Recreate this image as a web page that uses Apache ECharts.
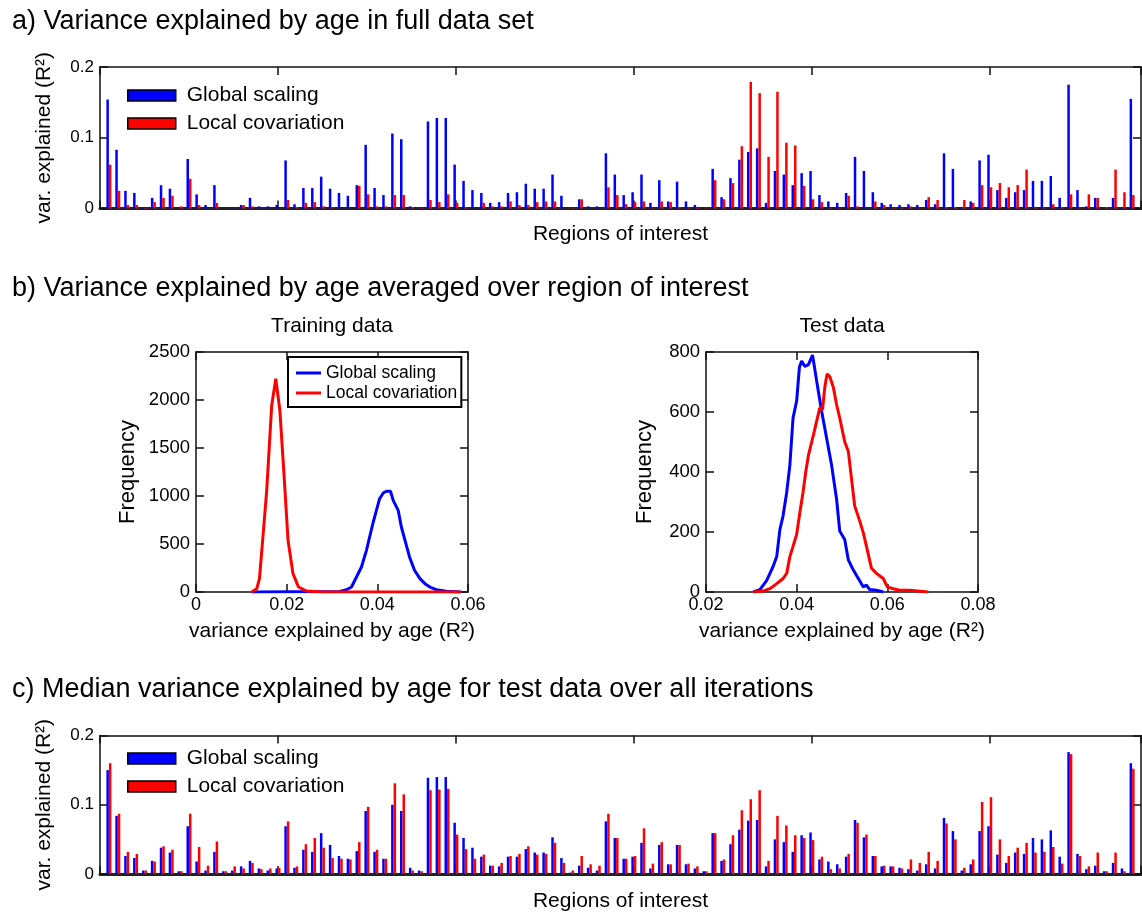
<!DOCTYPE html>
<html>
<head>
<meta charset="utf-8">
<script src="https://cdn.jsdelivr.net/npm/echarts@6/dist/echarts.min.js"></script>
<style>
  html, body { margin: 0; padding: 0; background: #fff; }
  #chart { width: 1142px; height: 913px; }
</style>
</head>
<body>
<div id="chart"></div>
<script>
// panel a: variance explained by age, full data set (one value per ROI)
const fullGlobal = [
  0.154, 0.083, 0.025, 0.022, 0.001, 0.015, 0.033, 0.028, 0.000, 0.070,
  0.020, 0.005, 0.033, 0.000, 0.002, 0.005, 0.015, 0.003, 0.003, 0.005,
  0.068, 0.006, 0.029, 0.029, 0.045, 0.028, 0.022, 0.018, 0.033, 0.090,
  0.029, 0.019, 0.106, 0.098, 0.003, 0.001, 0.123, 0.128, 0.128, 0.062,
  0.039, 0.026, 0.022, 0.008, 0.009, 0.022, 0.023, 0.035, 0.028, 0.028,
  0.048, 0.018, 0.000, 0.013, 0.003, 0.003, 0.078, 0.048, 0.019, 0.023,
  0.048, 0.008, 0.040, 0.010, 0.038, 0.010, 0.005, 0.000, 0.056, 0.016,
  0.043, 0.069, 0.080, 0.085, 0.008, 0.053, 0.048, 0.033, 0.050, 0.053,
  0.019, 0.010, 0.008, 0.022, 0.073, 0.053, 0.023, 0.008, 0.006, 0.005,
  0.006, 0.005, 0.012, 0.006, 0.078, 0.056, 0.002, 0.010, 0.068, 0.076,
  0.026, 0.015, 0.023, 0.026, 0.039, 0.039, 0.046, 0.015, 0.175, 0.026,
  0.003, 0.015, 0.000, 0.015, 0.002, 0.155
];
const fullLocal = [
  0.062, 0.025, 0.005, 0.005, 0.001, 0.009, 0.015, 0.018, 0.003, 0.042,
  0.005, 0.000, 0.008, 0.000, 0.000, 0.005, 0.003, 0.000, 0.000, 0.000,
  0.012, 0.002, 0.008, 0.009, 0.003, 0.002, 0.000, 0.000, 0.032, 0.020,
  0.003, 0.003, 0.019, 0.019, 0.002, 0.001, 0.012, 0.009, 0.020, 0.008,
  0.002, 0.000, 0.008, 0.003, 0.003, 0.010, 0.005, 0.005, 0.009, 0.010,
  0.010, 0.000, 0.001, 0.013, 0.000, 0.000, 0.030, 0.019, 0.006, 0.009,
  0.010, 0.001, 0.010, 0.009, 0.002, 0.001, 0.001, 0.001, 0.040, 0.013,
  0.036, 0.088, 0.179, 0.163, 0.073, 0.165, 0.093, 0.089, 0.032, 0.013,
  0.009, 0.001, 0.001, 0.018, 0.003, 0.000, 0.010, 0.005, 0.001, 0.001,
  0.003, 0.001, 0.016, 0.012, 0.002, 0.002, 0.012, 0.008, 0.033, 0.030,
  0.036, 0.030, 0.033, 0.055, 0.001, 0.001, 0.006, 0.002, 0.020, 0.001,
  0.020, 0.015, 0.002, 0.055, 0.023, 0.019
];

// panel c: median over iterations, test data
const testGlobal = [
  0.150, 0.084, 0.026, 0.023, 0.005, 0.019, 0.038, 0.031, 0.004, 0.069,
  0.018, 0.005, 0.032, 0.004, 0.005, 0.011, 0.019, 0.008, 0.005, 0.008,
  0.069, 0.009, 0.035, 0.032, 0.059, 0.042, 0.026, 0.022, 0.033, 0.091,
  0.032, 0.022, 0.100, 0.091, 0.009, 0.005, 0.139, 0.140, 0.140, 0.074,
  0.052, 0.038, 0.025, 0.012, 0.011, 0.025, 0.025, 0.036, 0.031, 0.031,
  0.053, 0.023, 0.002, 0.012, 0.009, 0.005, 0.076, 0.052, 0.022, 0.025,
  0.045, 0.008, 0.042, 0.014, 0.042, 0.014, 0.008, 0.004, 0.059, 0.019,
  0.043, 0.064, 0.077, 0.078, 0.011, 0.050, 0.046, 0.032, 0.056, 0.060,
  0.021, 0.018, 0.014, 0.025, 0.078, 0.053, 0.026, 0.011, 0.011, 0.009,
  0.007, 0.005, 0.014, 0.008, 0.081, 0.062, 0.005, 0.014, 0.062, 0.069,
  0.028, 0.016, 0.031, 0.029, 0.052, 0.050, 0.063, 0.025, 0.176, 0.029,
  0.007, 0.012, 0.004, 0.016, 0.008, 0.160
];
const testLocal = [
  0.160, 0.087, 0.032, 0.029, 0.005, 0.018, 0.040, 0.035, 0.004, 0.087,
  0.039, 0.012, 0.047, 0.004, 0.011, 0.008, 0.016, 0.007, 0.008, 0.009,
  0.076, 0.011, 0.043, 0.052, 0.038, 0.023, 0.022, 0.021, 0.046, 0.097,
  0.035, 0.022, 0.131, 0.115, 0.005, 0.004, 0.121, 0.122, 0.123, 0.057,
  0.036, 0.022, 0.028, 0.012, 0.016, 0.026, 0.029, 0.040, 0.028, 0.029,
  0.045, 0.016, 0.005, 0.026, 0.014, 0.012, 0.087, 0.052, 0.022, 0.026,
  0.066, 0.015, 0.046, 0.014, 0.042, 0.015, 0.011, 0.004, 0.059, 0.021,
  0.056, 0.092, 0.108, 0.121, 0.019, 0.084, 0.070, 0.056, 0.052, 0.049,
  0.025, 0.007, 0.008, 0.029, 0.074, 0.057, 0.026, 0.012, 0.011, 0.008,
  0.021, 0.016, 0.032, 0.019, 0.073, 0.050, 0.009, 0.021, 0.104, 0.111,
  0.050, 0.026, 0.038, 0.045, 0.031, 0.032, 0.039, 0.015, 0.173, 0.026,
  0.011, 0.031, 0.004, 0.031, 0.004, 0.152
];

// region of interest numbers 1..116
const regions = fullGlobal.map((_, i) => i + 1);

// panel b: frequency histograms of R^2 averaged over ROIs  [R^2, count]
const trainGlobal = [
  [0.0123, 0], [0.0317, 5], [0.0332, 24], [0.0343, 52], [0.0354, 156], [0.0365, 260],
  [0.0376, 434], [0.0383, 573], [0.0391, 729], [0.0398, 851], [0.0405, 972],
  [0.0413, 1031], [0.0420, 1050], [0.0429, 1050], [0.0435, 955], [0.0446, 851],
  [0.0453, 677], [0.0463, 503], [0.0471, 365], [0.0482, 226], [0.0494, 139],
  [0.0505, 87], [0.0516, 52], [0.0530, 24], [0.0552, 7], [0.0584, 0]
];
const trainLocal = [
  [0.0123, 0], [0.0134, 35], [0.0140, 139], [0.0147, 538], [0.0156, 1059],
  [0.0167, 1944], [0.0176, 2222], [0.0185, 1892], [0.0194, 1233], [0.0203, 538],
  [0.0214, 191], [0.0226, 52], [0.0244, 10], [0.0280, 0], [0.0584, 0]
];
const testDataGlobal = [
  [0.0304, 0], [0.0319, 8], [0.0334, 39], [0.0348, 85], [0.0356, 118], [0.0363, 208],
  [0.0370, 254], [0.0378, 332], [0.0385, 423], [0.0392, 580], [0.0400, 637],
  [0.0406, 749], [0.0411, 770], [0.0418, 752], [0.0426, 758], [0.0435, 790],
  [0.0444, 704], [0.0455, 603], [0.0466, 513], [0.0477, 423], [0.0488, 310],
  [0.0495, 203], [0.0506, 175], [0.0514, 107], [0.0525, 73], [0.0536, 45],
  [0.0547, 17], [0.0554, 23], [0.0561, 8], [0.0576, 6], [0.0591, 0]
];
const testDataLocal = [
  [0.0304, 0], [0.0326, 3], [0.0341, 11], [0.0356, 28], [0.0370, 45], [0.0378, 62],
  [0.0385, 118], [0.0392, 152], [0.0400, 192], [0.0407, 265], [0.0414, 332],
  [0.0420, 400], [0.0426, 456], [0.0437, 524], [0.0444, 569], [0.0451, 614],
  [0.0457, 608], [0.0462, 682], [0.0467, 727], [0.0473, 718], [0.0481, 682],
  [0.0488, 625], [0.0495, 580], [0.0506, 501], [0.0514, 468], [0.0521, 377],
  [0.0528, 287], [0.0539, 237], [0.0547, 197], [0.0554, 152], [0.0565, 79],
  [0.0576, 62], [0.0591, 45], [0.0600, 17], [0.0613, 11], [0.0627, 6],
  [0.0649, 6], [0.0690, 0]
];

const FONT = '"Liberation Sans", Arial, Helvetica, sans-serif';
const AX = '#111';
const BLUE = '#0000ff';
const RED = '#ff0000';

const chart = echarts.init(document.getElementById('chart'), null, { renderer: 'canvas' });

function axis(grid, position, min, max, interval, extra) {
  return Object.assign({
    type: 'value', gridIndex: grid, position, min, max, interval,
    axisLine: { show: true, onZero: false, lineStyle: { color: AX, width: 1.5 } },
    axisTick: { show: true, inside: true, length: 8, lineStyle: { color: AX, width: 1.5 } },
    axisLabel: { show: false },
    splitLine: { show: false },
    nameTextStyle: { fontFamily: FONT, fontSize: 21, color: '#000' }
  }, extra);
}

function tickLabels(size, margin) {
  return {
    show: true, fontFamily: FONT, fontSize: size, color: '#000', margin,
    formatter: v => String(+v.toFixed(4))
  };
}

function barLegend(top) {
  return {
    left: 127, top, orient: 'vertical', itemWidth: 48, itemHeight: 11, itemGap: 7,
    selectedMode: false, padding: 0,
    textStyle: { fontFamily: FONT, fontSize: 21, color: '#000', padding: [0, 0, 0, 6] },
    data: [
      { name: 'Global scaling', icon: 'rect', itemStyle: { color: BLUE, borderColor: '#000', borderWidth: 1.5 } },
      { name: 'Local covariation', icon: 'rect', itemStyle: { color: RED, borderColor: '#000', borderWidth: 1.5 } }
    ]
  };
}

function bars(name, xi, values, color) {
  return {
    type: 'bar', name, xAxisIndex: xi, yAxisIndex: xi,
    data: regions.map((r, i) => [r, values[i]]),
    barWidth: 2.5, barGap: '0%',
    itemStyle: { color },
    animation: false
  };
}

function line(name, xi, data, color) {
  return {
    type: 'line', name, xAxisIndex: xi, yAxisIndex: xi, data,
    showSymbol: false, symbol: 'none',
    lineStyle: { color, width: 3 },
    itemStyle: { color },
    animation: false
  };
}

const titleStyle = { fontFamily: FONT, fontSize: 27, fontWeight: 'normal', color: '#000' };

const option = {
  backgroundColor: '#fff',
  animation: false,
  title: [
    { text: 'a) Variance explained by age in full data set', left: 12, top: 8, padding: 0, textStyle: titleStyle },
    { text: 'b) Variance explained by age averaged over region of interest', left: 12, top: 275, padding: 0, textStyle: titleStyle },
    { text: 'c) Median variance explained by age for test data over all iterations', left: 12, top: 676, padding: 0, textStyle: titleStyle }
  ],
  grid: [
    { left: 100, top: 67, width: 1041, height: 141.5 },
    { left: 196, top: 352, width: 272, height: 240 },
    { left: 706, top: 352, width: 272, height: 240 },
    { left: 100, top: 735.5, width: 1041, height: 142 }
  ],
  legend: [
    barLegend(85),
    {
      left: 288, top: 357, orient: 'vertical', itemWidth: 25, itemHeight: 3, itemGap: 2,
      selectedMode: false, padding: [7, 4, 5, 8],
      borderColor: '#000', borderWidth: 2, backgroundColor: '#fff',
      textStyle: { fontFamily: FONT, fontSize: 17.5, color: '#000' },
      data: [
        { name: 'Global scaling', icon: 'rect', itemStyle: { color: BLUE, borderWidth: 0 } },
        { name: 'Local covariation', icon: 'rect', itemStyle: { color: RED, borderWidth: 0 } }
      ]
    },
    barLegend(748)
  ],
  xAxis: [
    axis(0, 'bottom', 0, 117, 20, {
      axisLine: { show: true, onZero: false, lineStyle: { color: '#222', width: 3 } },
      name: 'Regions of interest', nameLocation: 'middle', nameGap: 15
    }),
    axis(0, 'top', 0, 117, 20),
    axis(1, 'bottom', 0, 0.06, 0.02, {
      axisLabel: tickLabels(18, 4),
      name: 'variance explained by age (R²)', nameLocation: 'middle', nameGap: 29
    }),
    axis(1, 'top', 0, 0.06, 0.02, { name: 'Training data', nameLocation: 'middle', nameGap: 15 }),
    axis(2, 'bottom', 0.02, 0.08, 0.02, {
      axisLabel: tickLabels(18, 4),
      name: 'variance explained by age (R²)', nameLocation: 'middle', nameGap: 29
    }),
    axis(2, 'top', 0.02, 0.08, 0.02, { name: 'Test data', nameLocation: 'middle', nameGap: 15 }),
    axis(3, 'bottom', 0, 117, 20, {
      axisLine: { show: true, onZero: false, lineStyle: { color: '#222', width: 3 } },
      name: 'Regions of interest', nameLocation: 'middle', nameGap: 17
    }),
    axis(3, 'top', 0, 117, 20)
  ],
  yAxis: [
    axis(0, 'left', 0, 0.2, 0.1, {
      axisLabel: tickLabels(17, 6),
      name: 'var. explained (R²)', nameLocation: 'middle', nameGap: 45
    }),
    axis(0, 'right', 0, 0.2, 0.1),
    axis(1, 'left', 0, 2500, 500, {
      axisLabel: tickLabels(18.5, 6),
      name: 'Frequency', nameLocation: 'middle', nameGap: 57,
      nameTextStyle: { fontFamily: FONT, fontSize: 22, color: '#000' }
    }),
    axis(1, 'right', 0, 2500, 500),
    axis(2, 'left', 0, 800, 200, {
      axisLabel: tickLabels(18.5, 6),
      name: 'Frequency', nameLocation: 'middle', nameGap: 50,
      nameTextStyle: { fontFamily: FONT, fontSize: 22, color: '#000' }
    }),
    axis(2, 'right', 0, 800, 200),
    axis(3, 'left', 0, 0.2, 0.1, {
      axisLabel: tickLabels(17, 6),
      name: 'var. explained (R²)', nameLocation: 'middle', nameGap: 45
    }),
    axis(3, 'right', 0, 0.2, 0.1)
  ],
  series: [
    bars('Global scaling', 0, fullGlobal, BLUE),
    bars('Local covariation', 0, fullLocal, RED),
    line('Global scaling', 2, trainGlobal, BLUE),
    line('Local covariation', 2, trainLocal, RED),
    line('Global scaling', 4, testDataGlobal, BLUE),
    line('Local covariation', 4, testDataLocal, RED),
    bars('Global scaling', 6, testGlobal, BLUE),
    bars('Local covariation', 6, testLocal, RED)
  ]
};

chart.setOption(option);
</script>
</body>
</html>
